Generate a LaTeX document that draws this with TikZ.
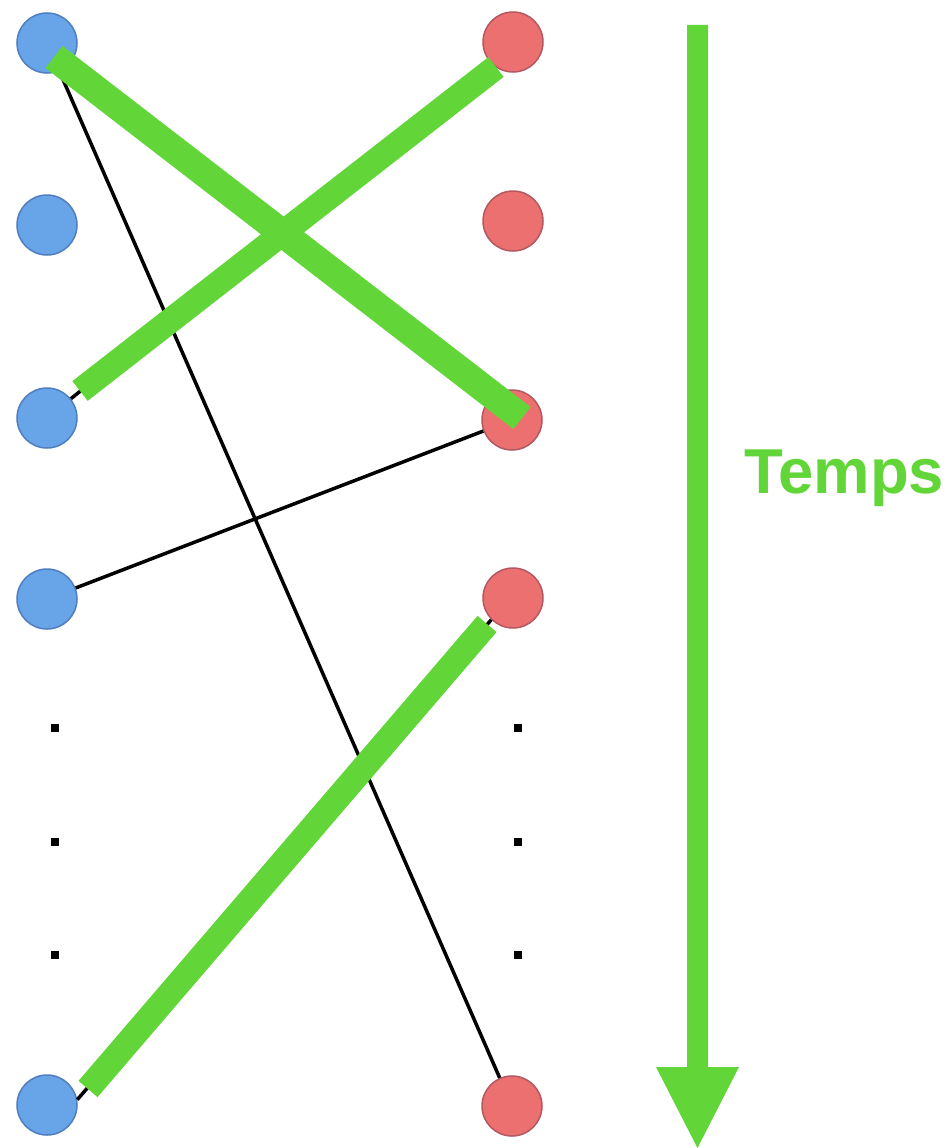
\documentclass[tikz,border=0pt]{standalone}
\usepackage{fontspec}
\setmainfont{Liberation Sans}
\usetikzlibrary{arrows.meta}
\definecolor{vert}{RGB}{98,214,56}
\definecolor{bleufond}{RGB}{104,164,232}
\definecolor{bleubord}{RGB}{80,126,190}
\definecolor{rougefond}{RGB}{236,112,112}
\definecolor{rougebord}{RGB}{178,88,96}
\tikzset{
  bleu/.style={circle,minimum size=60pt,inner sep=0pt,fill=bleufond,draw=bleubord,line width=1.5pt},
  rouge/.style={circle,minimum size=60pt,inner sep=0pt,fill=rougefond,draw=rougebord,line width=1.5pt},
  lien/.style={black,line width=3.5pt},
  barre/.style={vert,line width=25pt},
  point/.style={fill=black}
}
\begin{document}
\begin{tikzpicture}[x=1pt,y=-1pt]
\path[use as bounding box] (0,0) rectangle (952,1148);
% emetteurs / recepteurs
\node[bleu] (b1) at (47,43) {};
\node[bleu] (b2) at (47,225) {};
\node[bleu] (b3) at (47,418) {};
\node[bleu] (b4) at (47,599) {};
\node[bleu] (b5) at (47,1105) {};
\node[rouge] (r1) at (513,42) {};
\node[rouge] (r2) at (513,221) {};
\node[rouge] (r3) at (512,420) {};
\node[rouge] (r4) at (513,598) {};
\node[rouge] (r5) at (512,1106) {};
% liens
\draw[lien] (b1) -- (r5);
\draw[lien] (b1) -- (r3);
\draw[lien] (b3) -- (r1);
\draw[lien] (b4) -- (r3);
\draw[lien] (b5.10) -- (r4.225);
% points de suspension
\fill[point] (51,724) rectangle ++(8,8);
\fill[point] (51,838) rectangle ++(8,8);
\fill[point] (51,951) rectangle ++(8,8);
\fill[point] (514,724) rectangle ++(8,8);
\fill[point] (514,838) rectangle ++(8,8);
\fill[point] (514,951) rectangle ++(8,8);
% liens barres
\coordinate (g1a) at (54,57);
\coordinate (g1b) at (522,418);
\coordinate (g2a) at (80,391);
\coordinate (g2b) at (496,67);
\coordinate (g3a) at (88,1089);
\coordinate (g3b) at (487,624);
\draw[barre,line width=28pt] (g1a) -- (g1b);
\draw[barre] (g2a) -- (g2b);
\draw[barre] (g3a) -- (g3b);
% temps
\fill[vert] (687,25) -- (708,25) -- (708,1067) -- (739,1067) -- (697.5,1148) -- (656,1067) -- (687,1067) -- cycle;
\node[anchor=base west,inner sep=0pt,text=vert,font=\fontsize{63.5}{72}\selectfont\bfseries] (temps) at (744,493) {Temps};
\end{tikzpicture}
\end{document}
